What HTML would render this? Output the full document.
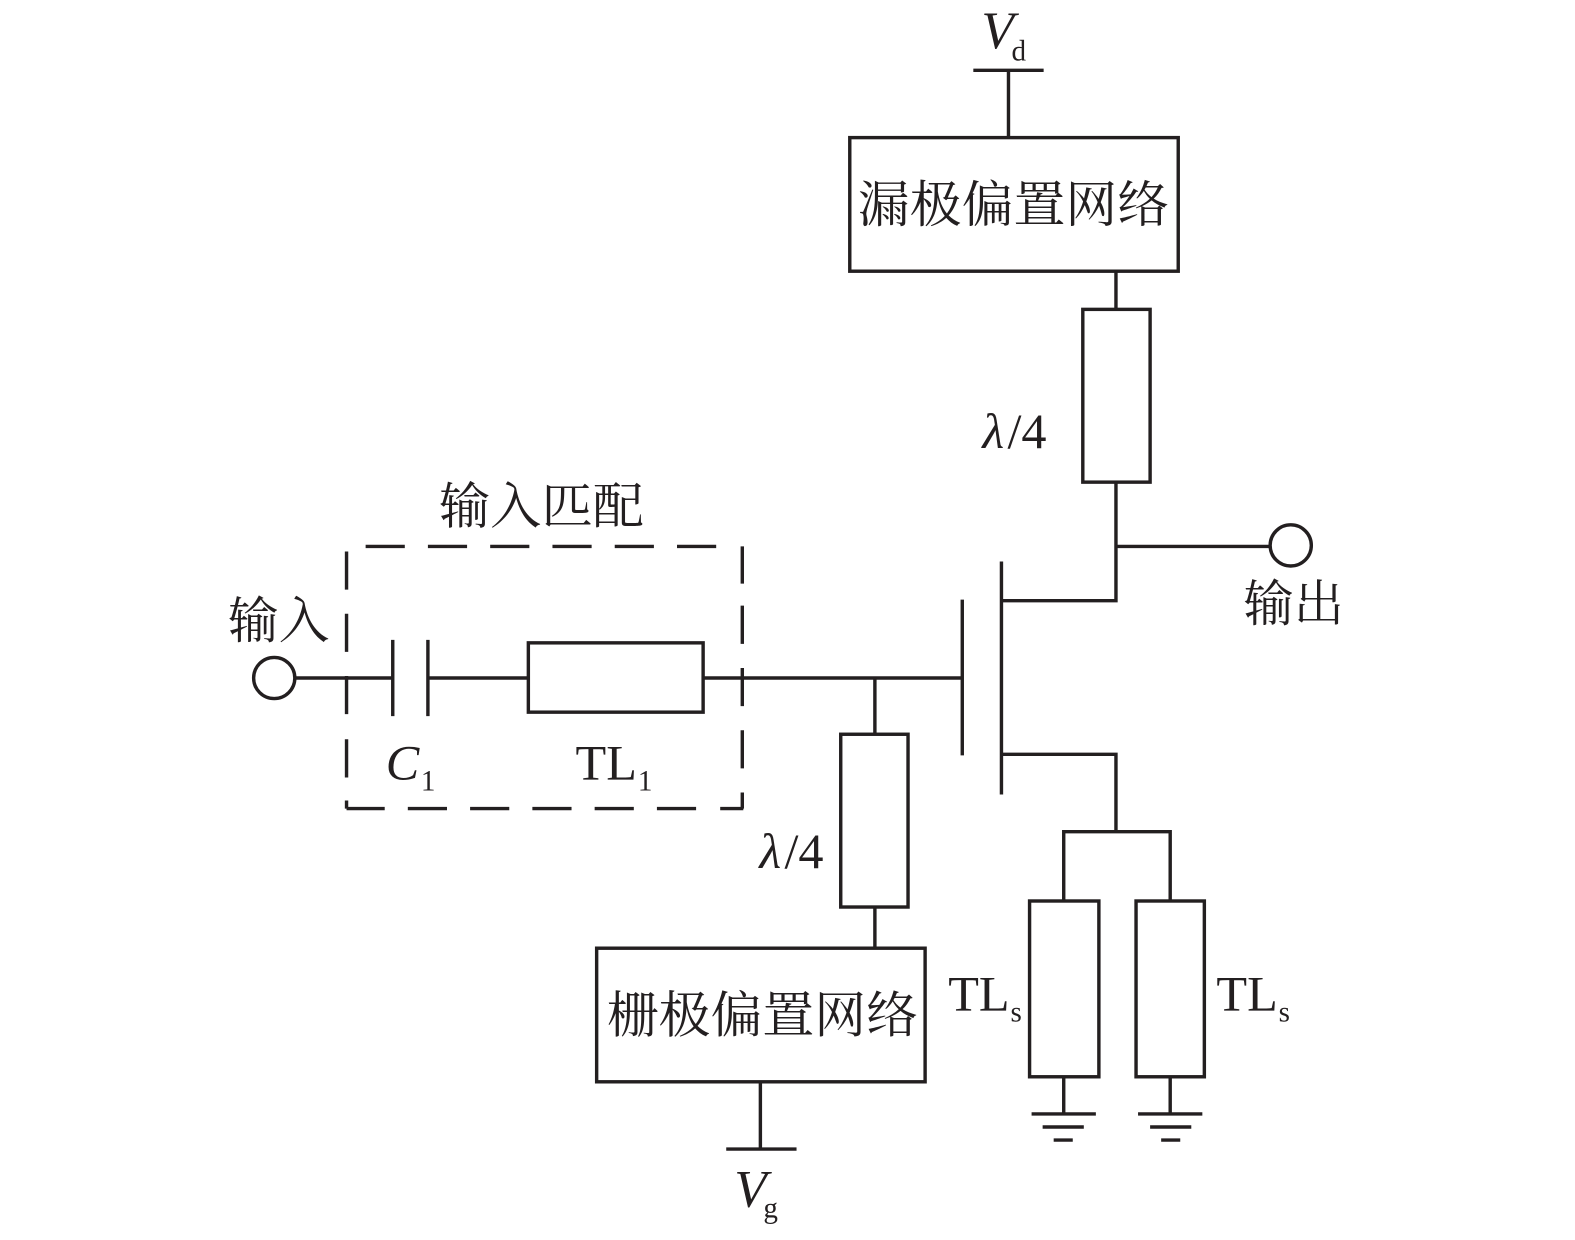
<!DOCTYPE html>
<html><head><meta charset="utf-8"><style>html,body{margin:0;padding:0;background:#fff}svg{display:block}
.c{font-family:"Noto Serif CJK SC","Liberation Serif",serif;fill:#231f20}
.l{font-family:"Liberation Serif",serif;fill:#231f20}
.i{font-style:italic}</style></head><body>
<svg width="1575" height="1240" viewBox="0 0 1568 1234.5" xmlns="http://www.w3.org/2000/svg">
<g fill="none" stroke="#231f20" stroke-width="3.4">
<!-- Vd -->
<path d="M969 70H1039M1004 70V137"/>
<rect x="846" y="137" width="327" height="133"/>
<path d="M1111 270V308"/>
<rect x="1078" y="308" width="67" height="172"/>
<path d="M1111 480V598H997M1111 544H1264"/>
<circle cx="1285" cy="543" r="20.5"/>
<!-- FET -->
<path d="M997 559V791M958 597V752M997 751H1111V828M1059 897V828H1165V897"/>
<!-- input -->
<circle cx="273" cy="675" r="20.5"/>
<path d="M294 675H391M391 637V713M426 637V713M426 675H526"/>
<rect x="526" y="640" width="174" height="69"/>
<path d="M700 675H958M871 675V731"/>
<rect x="837" y="731" width="67" height="172"/>
<path d="M871 903V944"/>
<rect x="594" y="944" width="327" height="133"/>
<path d="M757 1077V1144M723 1144H793"/>
<!-- TLs -->
<rect x="1025" y="897" width="69" height="175"/>
<rect x="1131" y="897" width="68" height="175"/>
<path d="M1059 1072V1109M1027 1109H1091M1038 1122H1079M1049 1135H1068"/>
<path d="M1165 1072V1109M1133 1109H1197M1145 1122H1186M1156 1135H1175"/>
<!-- dashed box -->
<path d="M364 544H403M426 544H465M488 544H527M550 544H589M612 544H651M674 544H713"/>
<path d="M345 549V587M345 611V649M345 673V711M345 736V774M345 797V805"/>
<path d="M739 544V581M739 603V641M739 665V703M739 727V765M739 789V805"/>
<path d="M345 805H383M406 805H445M468 805H507M530 805H569M592 805H631M654 805H693M717 805H740"/>
</g>
<g font-size="50">
<text class="c" x="854" y="221" textLength="310" lengthAdjust="spacingAndGlyphs">漏极偏置网络</text>
<text class="c" x="604" y="1028" textLength="310" lengthAdjust="spacingAndGlyphs">栅极偏置网络</text>
<text class="c" x="437" y="521" textLength="204" lengthAdjust="spacingAndGlyphs">输入匹配</text>
<text class="c" x="227" y="635" textLength="101" lengthAdjust="spacingAndGlyphs">输入</text>
<text class="c" x="1238" y="618" textLength="100" lengthAdjust="spacingAndGlyphs">输出</text>
</g>
<g font-size="50">
<text class="l i" x="977" y="48" font-size="53">V</text>
<text class="l" x="1007" y="60" font-size="29">d</text>
<text class="l i" x="978" y="446">λ</text><text class="l" x="1003" y="446">/4</text>
<text class="l i" x="756" y="864">λ</text><text class="l" x="781" y="864">/4</text>
<text class="l i" x="384" y="776">C</text>
<text class="l" x="419" y="787" font-size="29">1</text>
<text class="l" x="573" y="776">TL</text>
<text class="l" x="635" y="787" font-size="29">1</text>
<text class="l" x="944" y="1006">TL</text>
<text class="l" x="1006" y="1017" font-size="29">s</text>
<text class="l" x="1211" y="1006">TL</text>
<text class="l" x="1273" y="1017" font-size="29">s</text>
<text class="l i" x="731" y="1201" font-size="53">V</text>
<text class="l" x="760" y="1212" font-size="29">g</text>
</g>
</svg>
</body></html>
